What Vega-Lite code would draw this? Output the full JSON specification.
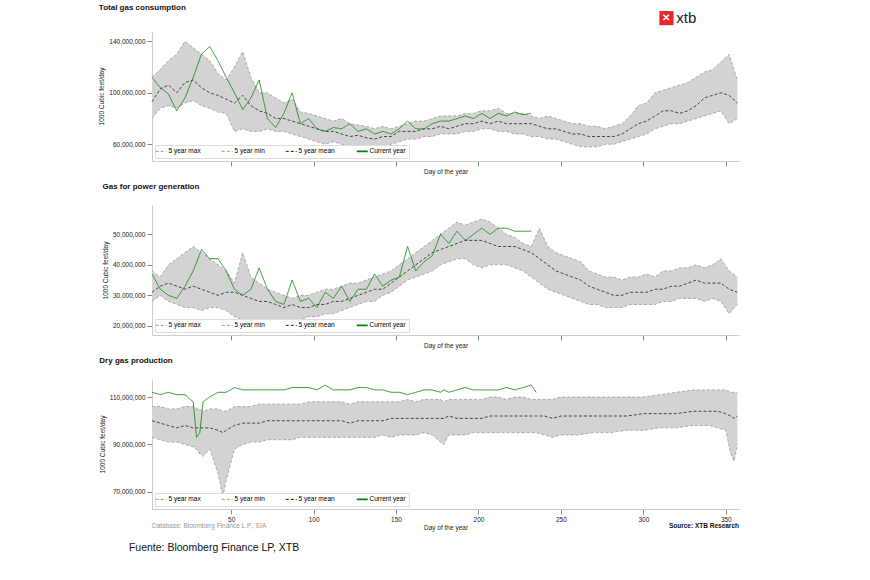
{
  "$schema": "https://vega.github.io/schema/vega-lite/v6.json",
  "background": "white",
  "padding": {"left": 98, "top": 4, "right": 10, "bottom": 5},
  "config": {
    "font": "Liberation Sans",
    "view": {"stroke": null},
    "axis": {"grid": false, "labelFontSize": 6.5, "titleFontSize": 6.5, "titleFontWeight": "normal", "domainColor": "#ccc", "tickColor": "#888", "labelColor": "#222", "titleColor": "#222"},
    "title": {"anchor": "start", "fontSize": 8, "fontWeight": "bold", "offset": 14, "color": "#111"},
    "legend": {"orient": "bottom-left", "direction": "horizontal", "title": null, "fillColor": "white", "strokeColor": "#ddd", "padding": 3, "labelFontSize": 6.5, "symbolType": "stroke", "symbolSize": 120, "symbolStrokeWidth": 1.2, "columnPadding": 18, "offset": 3}
  },
  "spacing": 8,
  "resolve": {"legend": {"color": "independent"}, "scale": {"y": "independent", "x": "independent"}},
  "datasets": {
    "p1": [
      {"d":2,"max":112,"min":80,"mean":93,"cur":112},{"d":7,"max":118,"min":88,"mean":103,"cur":104},{"d":12,"max":125,"min":90,"mean":106,"cur":99},{"d":17,"max":130,"min":88,"mean":100,"cur":86},{"d":22,"max":140,"min":92,"mean":108,"cur":96},{"d":27,"max":135,"min":94,"mean":110,"cur":112},{"d":32,"max":130,"min":90,"mean":104,"cur":130},{"d":37,"max":125,"min":88,"mean":100,"cur":136},{"d":42,"max":115,"min":85,"mean":98,"cur":125},{"d":47,"max":110,"min":84,"mean":95,"cur":112},{"d":52,"max":120,"min":70,"mean":92,"cur":100},{"d":57,"max":132,"min":72,"mean":98,"cur":87},{"d":62,"max":112,"min":70,"mean":90,"cur":96},{"d":67,"max":100,"min":70,"mean":86,"cur":110},{"d":72,"max":100,"min":72,"mean":84,"cur":80},{"d":77,"max":96,"min":70,"mean":80,"cur":73},{"d":82,"max":92,"min":70,"mean":80,"cur":84},{"d":87,"max":95,"min":68,"mean":78,"cur":100},{"d":92,"max":85,"min":66,"mean":76,"cur":76},{"d":97,"max":84,"min":64,"mean":74,"cur":80},{"d":102,"max":82,"min":62,"mean":72,"cur":72},{"d":107,"max":80,"min":60,"mean":70,"cur":70},{"d":112,"max":78,"min":62,"mean":70,"cur":73},{"d":117,"max":80,"min":60,"mean":68,"cur":72},{"d":122,"max":76,"min":58,"mean":66,"cur":76},{"d":127,"max":75,"min":58,"mean":67,"cur":70},{"d":132,"max":74,"min":56,"mean":65,"cur":72},{"d":137,"max":72,"min":58,"mean":64,"cur":68},{"d":142,"max":74,"min":58,"mean":66,"cur":70},{"d":147,"max":72,"min":60,"mean":66,"cur":68},{"d":152,"max":74,"min":62,"mean":70,"cur":72},{"d":157,"max":76,"min":64,"mean":70,"cur":78},{"d":162,"max":78,"min":64,"mean":70,"cur":72},{"d":167,"max":78,"min":66,"mean":72,"cur":72},{"d":172,"max":80,"min":66,"mean":72,"cur":76},{"d":177,"max":82,"min":68,"mean":74,"cur":78},{"d":182,"max":82,"min":68,"mean":72,"cur":78},{"d":187,"max":82,"min":68,"mean":74,"cur":80},{"d":192,"max":84,"min":70,"mean":76,"cur":82},{"d":197,"max":84,"min":70,"mean":76,"cur":80},{"d":202,"max":86,"min":72,"mean":78,"cur":84},{"d":207,"max":86,"min":72,"mean":76,"cur":80},{"d":212,"max":88,"min":70,"mean":78,"cur":84},{"d":217,"max":84,"min":70,"mean":76,"cur":82},{"d":222,"max":84,"min":68,"mean":76,"cur":85},{"d":227,"max":84,"min":68,"mean":76,"cur":83},{"d":232,"max":82,"min":66,"mean":76,"cur":84},{"d":237,"max":80,"min":66,"mean":74},{"d":242,"max":82,"min":64,"mean":72},{"d":247,"max":80,"min":64,"mean":72},{"d":252,"max":78,"min":62,"mean":70},{"d":257,"max":76,"min":60,"mean":68},{"d":262,"max":76,"min":58,"mean":68},{"d":267,"max":74,"min":58,"mean":66},{"d":272,"max":74,"min":58,"mean":66},{"d":277,"max":72,"min":60,"mean":66},{"d":282,"max":74,"min":60,"mean":66},{"d":287,"max":76,"min":62,"mean":68},{"d":292,"max":82,"min":64,"mean":72},{"d":297,"max":90,"min":66,"mean":76},{"d":302,"max":92,"min":68,"mean":78},{"d":307,"max":100,"min":72,"mean":82},{"d":312,"max":102,"min":74,"mean":86},{"d":317,"max":104,"min":76,"mean":86},{"d":322,"max":106,"min":76,"mean":84},{"d":327,"max":108,"min":78,"mean":86},{"d":332,"max":112,"min":80,"mean":90},{"d":337,"max":116,"min":82,"mean":96},{"d":342,"max":118,"min":84,"mean":98},{"d":347,"max":124,"min":86,"mean":100},{"d":352,"max":130,"min":76,"mean":98},{"d":357,"max":110,"min":80,"mean":92}
    ],
    "p2": [
      {"d":2,"max":38,"min":28,"mean":31,"cur":37},{"d":7,"max":36,"min":30,"mean":33,"cur":32},{"d":12,"max":40,"min":28,"mean":34,"cur":30},{"d":17,"max":42,"min":27,"mean":33,"cur":29},{"d":22,"max":44,"min":26,"mean":32,"cur":33},{"d":27,"max":46,"min":26,"mean":33,"cur":38},{"d":32,"max":44,"min":25,"mean":32,"cur":45},{"d":37,"max":42,"min":26,"mean":31,"cur":42},{"d":42,"max":40,"min":26,"mean":30,"cur":42},{"d":47,"max":38,"min":25,"mean":31,"cur":38},{"d":52,"max":34,"min":23,"mean":31,"cur":32},{"d":57,"max":44,"min":22,"mean":30,"cur":30},{"d":62,"max":36,"min":22,"mean":29,"cur":32},{"d":67,"max":34,"min":22,"mean":28,"cur":39},{"d":72,"max":32,"min":22,"mean":28,"cur":32},{"d":77,"max":31,"min":22,"mean":27,"cur":28},{"d":82,"max":30,"min":22,"mean":26,"cur":27},{"d":87,"max":29,"min":22,"mean":27,"cur":35},{"d":92,"max":30,"min":22,"mean":26,"cur":28},{"d":97,"max":30,"min":23,"mean":26,"cur":29},{"d":102,"max":31,"min":23,"mean":27,"cur":26},{"d":107,"max":32,"min":24,"mean":27,"cur":31},{"d":112,"max":32,"min":24,"mean":28,"cur":29},{"d":117,"max":33,"min":25,"mean":28,"cur":33},{"d":122,"max":34,"min":26,"mean":29,"cur":28},{"d":127,"max":34,"min":27,"mean":30,"cur":32},{"d":132,"max":35,"min":28,"mean":31,"cur":32},{"d":137,"max":36,"min":28,"mean":32,"cur":37},{"d":142,"max":37,"min":30,"mean":32,"cur":33},{"d":147,"max":38,"min":31,"mean":34,"cur":35},{"d":152,"max":40,"min":33,"mean":36,"cur":36},{"d":157,"max":42,"min":35,"mean":38,"cur":46},{"d":162,"max":44,"min":36,"mean":40,"cur":38},{"d":167,"max":46,"min":37,"mean":42,"cur":41},{"d":172,"max":48,"min":38,"mean":44,"cur":43},{"d":177,"max":50,"min":40,"mean":45,"cur":50},{"d":182,"max":52,"min":41,"mean":46,"cur":47},{"d":187,"max":54,"min":42,"mean":47,"cur":51},{"d":192,"max":53,"min":42,"mean":48,"cur":48},{"d":197,"max":54,"min":40,"mean":48,"cur":50},{"d":202,"max":55,"min":39,"mean":48,"cur":52},{"d":207,"max":54,"min":40,"mean":47,"cur":50},{"d":212,"max":52,"min":40,"mean":46,"cur":52},{"d":217,"max":50,"min":40,"mean":46,"cur":52},{"d":222,"max":49,"min":39,"mean":46,"cur":51},{"d":227,"max":47,"min":38,"mean":45,"cur":51},{"d":232,"max":46,"min":36,"mean":44,"cur":51},{"d":237,"max":52,"min":34,"mean":42},{"d":242,"max":46,"min":32,"mean":40},{"d":247,"max":44,"min":31,"mean":38},{"d":252,"max":43,"min":30,"mean":37},{"d":257,"max":42,"min":29,"mean":36},{"d":262,"max":41,"min":28,"mean":35},{"d":267,"max":38,"min":27,"mean":33},{"d":272,"max":37,"min":27,"mean":32},{"d":277,"max":36,"min":26,"mean":31},{"d":282,"max":36,"min":26,"mean":30},{"d":287,"max":35,"min":26,"mean":30},{"d":292,"max":36,"min":27,"mean":31},{"d":297,"max":36,"min":27,"mean":31},{"d":302,"max":37,"min":27,"mean":31},{"d":307,"max":36,"min":27,"mean":32},{"d":312,"max":38,"min":28,"mean":32},{"d":317,"max":38,"min":28,"mean":33},{"d":322,"max":39,"min":29,"mean":33},{"d":327,"max":39,"min":29,"mean":34},{"d":332,"max":40,"min":29,"mean":35},{"d":337,"max":39,"min":28,"mean":34},{"d":342,"max":40,"min":29,"mean":34},{"d":347,"max":42,"min":28,"mean":34},{"d":352,"max":38,"min":24,"mean":32},{"d":357,"max":36,"min":27,"mean":31}
    ],
    "p3": [
      {"d":2,"max":106,"min":93,"mean":100,"cur":112},{"d":7,"max":106,"min":92,"mean":99,"cur":111},{"d":12,"max":105,"min":91,"mean":98,"cur":112},{"d":17,"max":105,"min":91,"mean":97,"cur":111},{"d":22,"max":106,"min":90,"mean":98,"cur":111},{"d":27,"max":106,"min":89,"mean":97,"cur":108},{"d":29,"max":105,"min":88,"mean":97,"cur":93},{"d":31,"max":105,"min":86,"mean":97,"cur":95},{"d":33,"max":104,"min":85,"mean":97,"cur":108},{"d":37,"max":105,"min":88,"mean":97,"cur":110},{"d":42,"max":105,"min":78,"mean":96,"cur":112},{"d":45,"max":104,"min":68,"mean":95,"cur":112},{"d":47,"max":104,"min":75,"mean":96,"cur":112},{"d":52,"max":106,"min":88,"mean":98,"cur":114},{"d":57,"max":106,"min":90,"mean":99,"cur":113},{"d":62,"max":106,"min":91,"mean":99,"cur":113},{"d":67,"max":107,"min":91,"mean":99,"cur":113},{"d":72,"max":107,"min":92,"mean":100,"cur":113},{"d":77,"max":107,"min":92,"mean":100,"cur":113},{"d":82,"max":107,"min":92,"mean":100,"cur":113},{"d":87,"max":107,"min":92,"mean":100,"cur":114},{"d":92,"max":107,"min":93,"mean":100,"cur":114},{"d":97,"max":108,"min":93,"mean":100,"cur":114},{"d":102,"max":108,"min":93,"mean":100,"cur":113},{"d":107,"max":108,"min":93,"mean":100,"cur":115},{"d":112,"max":108,"min":93,"mean":100,"cur":113},{"d":117,"max":108,"min":93,"mean":100,"cur":113},{"d":122,"max":107,"min":93,"mean":99,"cur":113},{"d":127,"max":108,"min":93,"mean":100,"cur":114},{"d":132,"max":108,"min":93,"mean":100,"cur":114},{"d":137,"max":108,"min":93,"mean":100,"cur":113},{"d":142,"max":108,"min":94,"mean":100,"cur":113},{"d":147,"max":108,"min":93,"mean":101,"cur":112},{"d":152,"max":108,"min":94,"mean":101,"cur":112},{"d":157,"max":109,"min":94,"mean":101,"cur":111},{"d":162,"max":108,"min":94,"mean":101,"cur":112},{"d":167,"max":109,"min":95,"mean":101,"cur":113},{"d":172,"max":109,"min":94,"mean":101,"cur":113},{"d":177,"max":109,"min":91,"mean":101,"cur":112},{"d":179,"max":108,"min":90,"mean":101,"cur":113},{"d":182,"max":109,"min":94,"mean":102,"cur":112},{"d":187,"max":109,"min":94,"mean":101,"cur":113},{"d":192,"max":109,"min":94,"mean":101,"cur":114},{"d":197,"max":109,"min":95,"mean":101,"cur":113},{"d":202,"max":109,"min":95,"mean":101,"cur":113},{"d":207,"max":110,"min":95,"mean":102,"cur":113},{"d":212,"max":110,"min":95,"mean":102,"cur":113},{"d":217,"max":109,"min":95,"mean":102,"cur":114},{"d":222,"max":110,"min":95,"mean":102,"cur":113},{"d":227,"max":110,"min":95,"mean":102,"cur":114},{"d":232,"max":109,"min":95,"mean":102,"cur":115},{"d":235,"max":109,"min":95,"mean":102,"cur":112},{"d":240,"max":109,"min":94,"mean":102},{"d":245,"max":109,"min":93,"mean":101},{"d":250,"max":110,"min":94,"mean":102},{"d":260,"max":110,"min":94,"mean":102},{"d":270,"max":110,"min":95,"mean":102},{"d":280,"max":110,"min":95,"mean":102},{"d":290,"max":110,"min":96,"mean":102},{"d":300,"max":110,"min":96,"mean":103},{"d":310,"max":111,"min":97,"mean":103},{"d":320,"max":112,"min":97,"mean":103},{"d":330,"max":113,"min":98,"mean":104},{"d":340,"max":113,"min":98,"mean":104},{"d":345,"max":113,"min":97,"mean":104},{"d":350,"max":113,"min":96,"mean":103},{"d":353,"max":112,"min":86,"mean":102},{"d":355,"max":112,"min":83,"mean":101},{"d":357,"max":112,"min":90,"mean":102}
    ]
  },
  "vconcat": [
    {
      "title": {"text": "Total gas consumption", "offset": -1},
      "width": 587, "height": 130,
      "data": {"name": "p1"},
      "layer": [
        {"mark": {"type": "area", "color": "#d3d3d3"},
         "encoding": {
           "x": {"field": "d", "type": "quantitative", "scale": {"domain": [2, 358], "nice": false}, "axis": {"values": [50,100,150,200,250,300,350], "labels": false, "title": "Day of the year", "titlePadding": 2}},
           "y": {"field": "min", "type": "quantitative", "scale": {"domain": [47, 148], "nice": false, "zero": false}, "axis": {"values": [60,80,100,120,140], "labelExpr": "format(datum.value*1000000, ',')", "title": "1000 Cubic feet/day"}},
           "y2": {"field": "max"}}},
        {"transform": [{"fold": ["max","min","mean","cur"]}, {"filter": "isValid(datum.value)"}, {"calculate": "{'max':'5 year max','min':'5 year min','mean':'5 year mean','cur':'Current year'}[datum.key]", "as": "series"}],
         "mark": {"type": "line"},
         "encoding": {
           "x": {"field": "d", "type": "quantitative"},
           "y": {"field": "value", "type": "quantitative"},
           "color": {"field": "series", "type": "nominal", "scale": {"domain": ["5 year max","5 year min","5 year mean","Current year"], "range": ["#9a9a9a","#9a9a9a","#222222","#008000"]}, "legend": {"symbolStrokeWidth": 1.3, "symbolDash": [3, 2], "encode": {"symbols": {"update": {"strokeDash": {"signal": "datum.label == 'Current year' ? [1, 0] : [3, 2]"}, "strokeWidth": {"signal": "datum.label == 'Current year' ? 1.8 : 1"}}}}}},
           "strokeDash": {"field": "series", "type": "nominal", "scale": {"domain": ["5 year max","5 year min","5 year mean","Current year"], "range": [[3,2],[3,2],[3,2],[1,0]]}, "legend": null},
           "strokeWidth": {"field": "series", "type": "nominal", "scale": {"domain": ["5 year max","5 year min","5 year mean","Current year"], "range": [0.8,0.8,0.9,1.8]}, "legend": null}}},
        {"data": {"values": [{"d": 314, "v": 158}]},
         "mark": {"type": "square", "color": "#e8262a", "opacity": 1, "size": 200, "clip": false},
         "encoding": {"x": {"field": "d", "type": "quantitative"}, "y": {"field": "v", "type": "quantitative"}}},
        {"data": {"values": [{"d": 314, "v": 158, "t": "✕"}]},
         "mark": {"type": "text", "color": "white", "fontSize": 10, "fontWeight": "bold"},
         "encoding": {"x": {"field": "d", "type": "quantitative"}, "y": {"field": "v", "type": "quantitative"}, "text": {"field": "t"}}},
        {"data": {"values": [{"d": 320, "v": 158, "t": "xtb"}]},
         "mark": {"type": "text", "align": "left", "color": "#222", "fontSize": 15},
         "encoding": {"x": {"field": "d", "type": "quantitative"}, "y": {"field": "v", "type": "quantitative"}, "text": {"field": "t"}}}
      ]
    },
    {
      "title": "Gas for power generation",
      "width": 587, "height": 130,
      "data": {"name": "p2"},
      "layer": [
        {"mark": {"type": "area", "color": "#d3d3d3"},
         "encoding": {
           "x": {"field": "d", "type": "quantitative", "scale": {"domain": [2, 358], "nice": false}, "axis": {"values": [50,100,150,200,250,300,350], "labels": false, "title": "Day of the year", "titlePadding": 2}},
           "y": {"field": "min", "type": "quantitative", "scale": {"domain": [17, 59.6], "nice": false, "zero": false}, "axis": {"values": [20,25,30,35,40,45,50,55], "labelExpr": "format(datum.value*1000000, ',')", "title": "1000 Cubic feet/day"}},
           "y2": {"field": "max"}}},
        {"transform": [{"fold": ["max","min","mean","cur"]}, {"filter": "isValid(datum.value)"}, {"calculate": "{'max':'5 year max','min':'5 year min','mean':'5 year mean','cur':'Current year'}[datum.key]", "as": "series"}],
         "mark": {"type": "line"},
         "encoding": {
           "x": {"field": "d", "type": "quantitative"},
           "y": {"field": "value", "type": "quantitative"},
           "color": {"field": "series", "type": "nominal", "scale": {"domain": ["5 year max","5 year min","5 year mean","Current year"], "range": ["#9a9a9a","#9a9a9a","#222222","#008000"]}, "legend": {"symbolStrokeWidth": 1.3, "symbolDash": [3, 2], "encode": {"symbols": {"update": {"strokeDash": {"signal": "datum.label == 'Current year' ? [1, 0] : [3, 2]"}, "strokeWidth": {"signal": "datum.label == 'Current year' ? 1.8 : 1"}}}}}},
           "strokeDash": {"field": "series", "type": "nominal", "scale": {"domain": ["5 year max","5 year min","5 year mean","Current year"], "range": [[3,2],[3,2],[3,2],[1,0]]}, "legend": null},
           "strokeWidth": {"field": "series", "type": "nominal", "scale": {"domain": ["5 year max","5 year min","5 year mean","Current year"], "range": [0.8,0.8,0.9,1.8]}, "legend": null}}}
      ]
    },
    {
      "title": "Dry gas production",
      "width": 587, "height": 130,
      "data": {"name": "p3"},
      "layer": [
        {"mark": {"type": "area", "color": "#d3d3d3"},
         "encoding": {
           "x": {"field": "d", "type": "quantitative", "scale": {"domain": [2, 358], "nice": false}, "axis": {"values": [50,100,150,200,250,300,350], "title": "Day of the year", "titlePadding": 2}},
           "y": {"field": "min", "type": "quantitative", "scale": {"domain": [62.8, 117.6], "nice": false, "zero": false}, "axis": {"values": [70,80,90,100,110], "labelExpr": "format(datum.value*1000000, ',')", "title": "1000 Cubic feet/day"}},
           "y2": {"field": "max"}}},
        {"transform": [{"fold": ["max","min","mean","cur"]}, {"filter": "isValid(datum.value)"}, {"calculate": "{'max':'5 year max','min':'5 year min','mean':'5 year mean','cur':'Current year'}[datum.key]", "as": "series"}],
         "mark": {"type": "line"},
         "encoding": {
           "x": {"field": "d", "type": "quantitative"},
           "y": {"field": "value", "type": "quantitative"},
           "color": {"field": "series", "type": "nominal", "scale": {"domain": ["5 year max","5 year min","5 year mean","Current year"], "range": ["#9a9a9a","#9a9a9a","#222222","#008000"]}, "legend": {"symbolStrokeWidth": 1.3, "symbolDash": [3, 2], "encode": {"symbols": {"update": {"strokeDash": {"signal": "datum.label == 'Current year' ? [1, 0] : [3, 2]"}, "strokeWidth": {"signal": "datum.label == 'Current year' ? 1.8 : 1"}}}}}},
           "strokeDash": {"field": "series", "type": "nominal", "scale": {"domain": ["5 year max","5 year min","5 year mean","Current year"], "range": [[3,2],[3,2],[3,2],[1,0]]}, "legend": null},
           "strokeWidth": {"field": "series", "type": "nominal", "scale": {"domain": ["5 year max","5 year min","5 year mean","Current year"], "range": [0.8,0.8,0.9,1.8]}, "legend": null}}},
        {"data": {"values": [{"d": 2, "v": 55.6, "t": "Database: Bloomberg Finance L.P., EIA"}]},
         "mark": {"type": "text", "align": "left", "color": "#999", "fontSize": 6.5, "clip": false},
         "encoding": {"x": {"field": "d", "type": "quantitative"}, "y": {"field": "v", "type": "quantitative"}, "text": {"field": "t"}}},
        {"data": {"values": [{"d": 358, "v": 55.6, "t": "Source: XTB Research"}]},
         "mark": {"type": "text", "align": "right", "color": "#111", "fontSize": 6.5, "fontWeight": "bold"},
         "encoding": {"x": {"field": "d", "type": "quantitative"}, "y": {"field": "v", "type": "quantitative"}, "text": {"field": "t"}}},
        {"data": {"values": [{"d": -12, "v": 46.3, "t": "Fuente: Bloomberg Finance LP, XTB"}]},
         "mark": {"type": "text", "align": "left", "color": "#111", "fontSize": 10.5},
         "encoding": {"x": {"field": "d", "type": "quantitative"}, "y": {"field": "v", "type": "quantitative"}, "text": {"field": "t"}}}
      ]
    }
  ]
}
